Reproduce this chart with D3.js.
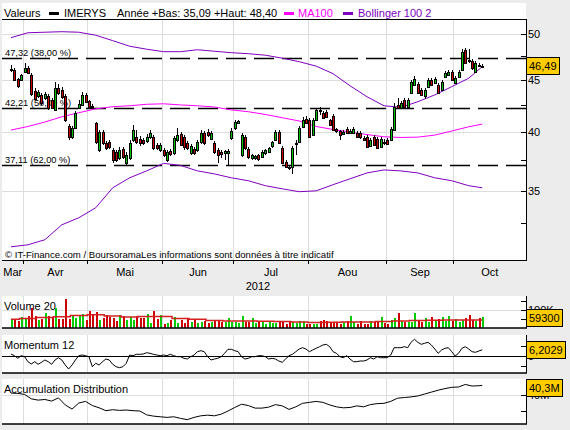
<!DOCTYPE html>
<html>
<head>
<meta charset="utf-8">
<script src="https://cdn.jsdelivr.net/npm/d3@7/dist/d3.min.js"></script>
<style>
  body { margin: 0; background: #ececec; }
  svg { display: block; font-family: "Liberation Sans", Arial, sans-serif; }
</style>
</head>
<body>
<div id="chart"></div>
<script>
// ---- data ----
const months = ["Mar", "Avr", "Mai", "Jun", "Jul", "Aou", "Sep", "Oct"];
const monthDays = [4, 19, 22, 21, 22, 23, 20, 9];   // trading days shown per month
const year = "2012";

const opens = [
  46.18, 46.07, 45.14, 45.03, 45.86, 46.28, 45.55, 43.92, 43.43, 43.51,
  43.23, 43.43, 43.02, 42.05, 44.23, 44.01, 43.43, 40.55, 39.56, 40.38,
  42.26, 42.53, 43.51, 42.93, 42.45, 40.82, 38.38, 39.99, 39.00, 39.09,
  38.38, 38.21, 37.71, 38.48, 37.28, 37.71, 39.26, 39.56, 39.35, 39.26,
  39.18, 39.56, 39.56, 38.82, 38.38, 38.38, 37.54, 38.30, 38.12, 39.26,
  39.80, 39.56, 39.00, 38.12, 38.48, 38.38, 39.09, 39.90, 39.99, 39.35,
  39.00, 38.38, 38.21, 38.12, 38.12, 39.47, 40.38, 40.82, 37.96, 39.56,
  38.48, 37.71, 37.71, 37.96, 37.79, 38.12, 38.21, 38.75, 39.26, 39.99,
  38.59, 37.37, 36.94, 36.94, 38.91, 39.09, 40.47, 41.20, 41.10, 39.71,
  41.10, 42.05, 41.78, 41.88, 41.10, 41.49, 40.27, 40.08, 39.80, 40.27,
  39.90, 39.90, 39.90, 39.90, 39.47, 39.56, 38.75, 39.56, 39.35, 38.67,
  39.09, 39.26, 39.26, 40.17, 42.53, 42.26, 43.02, 42.36, 43.73, 44.52,
  44.63, 44.01, 43.43, 44.33, 45.03, 44.73, 44.52, 44.01, 45.34, 45.55,
  45.86, 44.73, 45.34, 46.07, 48.21, 47.13, 47.02, 45.86, 46.60, 46.45
];
const highs = [
  46.60, 46.28, 45.24, 45.66, 46.81, 46.50, 45.76, 44.23, 44.01, 43.73,
  43.82, 43.63, 43.23, 44.83, 44.63, 44.33, 43.63, 40.72, 40.55, 41.96,
  43.02, 43.82, 43.73, 43.02, 42.64, 40.91, 40.17, 40.17, 39.18, 39.26,
  38.59, 38.38, 38.67, 38.67, 38.21, 39.26, 40.63, 40.17, 39.63, 39.47,
  39.80, 40.17, 39.71, 39.00, 39.00, 38.59, 38.38, 38.48, 39.63, 40.38,
  39.99, 39.71, 39.18, 38.91, 38.67, 39.26, 40.17, 40.08, 40.27, 40.08,
  39.18, 38.59, 38.38, 38.38, 38.48, 40.38, 41.10, 41.10, 39.90, 39.71,
  38.67, 38.03, 37.96, 38.03, 38.38, 38.48, 38.67, 39.18, 40.17, 40.17,
  38.75, 37.54, 37.11, 38.75, 39.26, 40.55, 41.40, 41.49, 41.31, 41.31,
  42.26, 42.36, 41.96, 42.05, 41.20, 41.68, 40.38, 40.17, 40.17, 40.47,
  40.27, 40.47, 40.08, 40.08, 39.63, 39.71, 39.47, 39.71, 39.56, 39.56,
  39.35, 39.47, 40.47, 42.74, 43.23, 42.93, 43.23, 43.23, 45.03, 45.45,
  44.83, 44.23, 44.23, 45.24, 45.24, 45.34, 44.73, 45.03, 45.97, 46.07,
  46.07, 45.45, 46.07, 48.33, 48.40, 48.33, 47.24, 47.02, 46.81, 46.71
];
const lows = [
  45.86, 44.93, 44.23, 44.93, 45.76, 45.66, 43.43, 43.02, 43.23, 42.53,
  43.02, 42.05, 42.15, 41.96, 43.51, 43.12, 40.91, 39.26, 39.35, 40.27,
  42.15, 42.45, 42.74, 42.15, 42.15, 38.91, 38.21, 38.82, 38.38, 38.48,
  37.28, 37.37, 37.54, 37.62, 37.11, 37.54, 39.09, 38.91, 38.75, 38.82,
  39.00, 39.35, 38.38, 38.38, 38.21, 37.79, 37.37, 37.88, 37.96, 39.09,
  38.75, 38.38, 38.38, 37.96, 37.96, 38.21, 38.91, 38.82, 39.56, 39.26,
  38.03, 37.28, 37.71, 37.54, 37.11, 39.26, 40.17, 40.72, 37.79, 38.38,
  37.62, 37.54, 37.54, 37.45, 37.71, 37.96, 38.12, 38.59, 39.18, 38.91,
  37.20, 36.86, 36.69, 36.36, 37.96, 39.00, 40.38, 40.72, 39.47, 39.63,
  41.01, 41.57, 41.20, 41.31, 40.55, 40.08, 39.90, 39.26, 39.71, 39.80,
  39.80, 39.80, 39.47, 39.35, 39.18, 38.59, 38.67, 38.75, 38.48, 38.59,
  38.82, 38.82, 39.18, 40.08, 42.15, 42.15, 42.26, 42.26, 43.63, 44.42,
  43.63, 43.43, 43.12, 44.23, 44.42, 44.63, 43.63, 43.92, 45.24, 45.45,
  44.93, 44.63, 45.24, 45.97, 46.71, 46.81, 46.07, 45.76, 46.39, 46.39
];
const closes = [
  46.18, 45.03, 44.42, 45.55, 46.28, 45.76, 43.63, 43.12, 43.82, 42.74,
  43.63, 42.26, 42.26, 44.23, 43.73, 43.33, 41.10, 39.56, 40.38, 41.78,
  42.64, 43.51, 42.84, 42.36, 42.36, 39.09, 39.99, 39.00, 38.59, 38.67,
  37.54, 37.54, 38.38, 37.79, 37.96, 39.00, 40.17, 39.09, 39.00, 39.00,
  39.56, 39.90, 38.59, 38.59, 38.82, 37.96, 38.21, 38.03, 39.47, 39.71,
  38.82, 38.67, 38.59, 38.75, 38.12, 39.09, 39.90, 39.00, 39.71, 39.90,
  38.21, 37.96, 38.03, 38.30, 38.30, 40.08, 40.91, 41.01, 39.71, 38.59,
  37.79, 37.96, 37.88, 37.62, 38.21, 38.38, 38.59, 39.09, 39.99, 39.00,
  37.28, 36.94, 36.86, 38.59, 39.00, 40.38, 41.10, 40.82, 39.56, 41.10,
  42.05, 41.96, 41.31, 41.40, 40.63, 40.17, 40.08, 39.71, 39.99, 39.90,
  40.08, 40.27, 39.56, 39.56, 39.26, 38.67, 39.26, 38.82, 38.59, 39.35,
  39.00, 38.91, 40.27, 42.36, 42.26, 42.74, 42.36, 43.02, 44.83, 45.14,
  43.73, 43.51, 44.01, 45.03, 44.52, 45.14, 43.73, 44.83, 45.76, 45.86,
  45.03, 45.24, 45.86, 48.00, 46.81, 47.02, 46.28, 46.81, 46.55, 46.49
];
const volumes = [
  44000, 44000, 37000, 61000, 48000, 67000, 111000, 67000, 44000, 50000,
  83000, 67000, 59000, 111000, 50000, 50000, 161000, 50000, 70000, 56000,
  72000, 78000, 44000, 94000, 70000, 89000, 44000, 56000, 72000, 61000,
  56000, 37000, 72000, 67000, 44000, 61000, 44000, 67000, 56000, 56000,
  78000, 28000, 94000, 50000, 72000, 22000, 28000, 44000, 61000, 28000,
  44000, 28000, 48000, 33000, 44000, 28000, 33000, 41000, 28000, 33000,
  44000, 44000, 33000, 33000, 56000, 33000, 33000, 28000, 67000, 33000,
  33000, 56000, 28000, 33000, 33000, 22000, 33000, 28000, 28000, 33000,
  33000, 22000, 41000, 33000, 28000, 37000, 37000, 22000, 22000, 22000,
  22000, 37000, 46000, 37000, 33000, 33000, 33000, 22000, 33000, 41000,
  65000, 33000, 22000, 41000, 22000, 22000, 41000, 33000, 41000, 63000,
  28000, 22000, 46000, 56000, 82000, 41000, 33000, 33000, 33000, 83000,
  41000, 33000, 56000, 33000, 59000, 37000, 48000, 59000, 41000, 68000,
  37000, 52000, 33000, 46000, 56000, 74000, 46000, 41000, 56000, 59300
];

// overlays read every 5 sessions (plus the last one)
const sampleIdx = d3.range(0, 140, 5).concat([139]);
const ma100 = [40.17, 40.50, 40.91, 41.40, 41.78, 42.15, 42.36, 42.45, 42.59, 42.64,
  42.53, 42.45, 42.33, 42.05, 41.88, 41.62, 41.31, 41.01, 40.50, 40.22,
  39.99, 39.76, 39.56, 39.50, 39.53, 39.71, 40.08, 40.47, 40.72];
const bollUp = [49.55, 50.11, 50.17, 50.23, 50.17, 49.83, 49.22, 48.60, 48.27, 48.00,
  48.00, 48.21, 48.05, 47.89, 47.78, 47.62, 47.30, 46.92, 46.45, 45.66,
  44.42, 43.33, 42.45, 42.30, 42.84, 43.51, 44.33, 45.19, 46.39];
const bollLow = [30.81, 30.95, 31.31, 32.39, 32.91, 33.67, 35.23, 36.04, 36.61, 37.24,
  37.07, 36.61, 36.36, 36.04, 35.80, 35.40, 35.15, 34.92, 34.99, 35.48,
  35.96, 36.44, 36.69, 36.61, 36.44, 36.04, 35.80, 35.40, 35.23];
const volMa = [48000, 53000, 59000, 63000, 70000, 73000, 67000, 61000, 64000, 64000,
  53000, 48000, 42000, 39000, 39000, 38000, 36000, 33000, 31000, 32000,
  33000, 34000, 36000, 39000, 42000, 43000, 44000, 45000, 45000];

const momentum = [
  2, 0.3, -2.3, 0.3, -0.7, -5.7, -8, -5.7, -8.3, -6.3,
  -4, -5.7, -8.3, -4, -1.7, -4, -9, -13, -9, -4,
  0.3, 1, 0.3, -0.7, -10.7, -7.3, -9, -5.7, -3, -4,
  -8.3, -10.7, -11.7, -10.7, -7.3, 1, 0.3, 1.7, 1.7, 2,
  3.3, 2.7, 1.7, 1, 0.3, 1, 0.3, 1.7, 0.3, -0.7,
  -0.7, -2.3, -3, -0.7, 1, 4.3, 5.3, 4.3, -0.7, -4,
  -3, -2.3, -0.7, 2.7, 6.7, 6.7, 5.3, 4.3, -0.7, -3,
  -2.3, -0.7, -0.7, 0.3, 0.3, -0.7, -3, -2.3, -3, -5,
  -6.3, -3, 0.3, 1.7, 4.3, 7, 8.3, 7, 4.3, 6,
  7.7, 9.3, 11, 11.7, 9.3, 4.3, 2.7, -0.7, -1.7, 0.3,
  -3, -5.7, -5.7, -5, -5, -4, -1.7, -3, -0.7, -1.7,
  -1.7, -1.7, 1, 8.3, 8.3, 8.3, 9.3, 8.3, 13.7, 16.7,
  13.7, 11.7, 12.7, 13.7, 11, 7, 2.7, 6, 7.7, 8.3,
  4.3, 0, 2.7, 7.7, 9.3, 7, 4.3, 3.7, 5, 6.2029
];

// accumulation distribution (millions), read every 2 sessions
const adIdx = d3.range(0, 140, 2).concat([139]);
const accDist = [
  40.06, 40.05, 40.02, 39.88, 39.84, 39.86, 39.81, 39.91, 39.69, 39.56,
  39.75, 39.80, 39.67, 39.60, 39.51, 39.54, 39.52, 39.53, 39.51, 39.50,
  39.38, 39.34, 39.32, 39.30, 39.32, 39.27, 39.23, 39.30, 39.35, 39.37,
  39.35, 39.40, 39.50, 39.61, 39.71, 39.67, 39.59, 39.59, 39.62, 39.70,
  39.66, 39.55, 39.63, 39.74, 39.77, 39.80, 39.77, 39.69, 39.63, 39.60,
  39.61, 39.66, 39.63, 39.70, 39.73, 39.74, 39.80, 39.90, 39.92, 39.94,
  39.97, 40.03, 40.09, 40.15, 40.20, 40.24, 40.25, 40.33, 40.28, 40.29,
  40.30
];

const fibLevels = [47.32, 42.21, 37.11];
const fibPct = ["38,00", "50,00", "62,00"];
const yearLow = "35,09", yearHigh = "48,40";
const priceTicks = d3.range(32.5, 50.01, 2.5);
const priceLabels = [35, 40, 45, 50];
const volTicks = [50000, 100000, 150000];
const momTicks = [-10, 0, 10];
const adTicks = [39.5, 40];

// ---- layout ----
const W = 570, H = 430;
const left = 2, right = 526;
const grid = "#dddddd", green = "#00c000", red = "#cc0000";
const maColor = "#ff00ff", bollColor = "#8000c0";
const fmt = (v, d) => v.toFixed(d).replace(".", ",");

const svg = d3.select("#chart").append("svg")
  .attr("width", W)
  .attr("height", H)
  .style("font-size", "11px");

svg.append("rect").attr("width", W).attr("height", H).attr("fill", "#ececec");

const x = d3.scaleLinear().domain([-2.65, 151.9]).range([left, right]);

let starts = [], acc = 0;
monthDays.forEach(d => { starts.push(acc); acc += d; });
const bounds = starts.slice(1).map(s => Math.round(x(s - 0.5)) + 0.5);

function vgrid(g, top, bottom) {
  g.selectAll(null).data(bounds).enter().append("line")
    .attr("x1", d => d).attr("x2", d => d)
    .attr("y1", top).attr("y2", bottom)
    .attr("stroke", grid);
}

function valueBox(yc, text, top, bottom) {
  const h = 17;
  let y0 = Math.round(yc - h / 2);
  y0 = Math.max(top, Math.min(bottom - h, y0));
  const g = svg.append("g");
  const t = g.append("text").attr("x", 529).attr("y", y0 + 12.5).text(text);
  const w = Math.round(t.node().getComputedTextLength()) + 5;
  g.insert("rect", "text")
    .attr("x", 526.5).attr("y", y0 + 0.5)
    .attr("width", w).attr("height", h)
    .attr("fill", "#ffcc00").attr("stroke", "#000");
}

// ---- main price panel ----
const mainTop = 19, mainBottom = 260;
const y = d3.scaleLog().domain([29.9, 51.7]).range([mainBottom, mainTop]);

svg.append("rect").attr("x", left).attr("y", 3)
  .attr("width", right - left).attr("height", mainBottom - 3).attr("fill", "#fff");

const gMain = svg.append("g");
vgrid(gMain, mainTop, mainBottom);
gMain.selectAll(null).data(priceLabels).enter().append("line")
  .attr("x1", left).attr("x2", right)
  .attr("y1", d => Math.round(y(d)) + 0.5).attr("y2", d => Math.round(y(d)) + 0.5)
  .attr("stroke", grid);

// header legend
const head = svg.append("g");
head.append("text").attr("x", 4).attr("y", 17).text("Valeurs");
head.append("rect").attr("x", 49).attr("y", 12).attr("width", 10).attr("height", 3).attr("fill", "#000");
head.append("text").attr("x", 64).attr("y", 17).text("IMERYS");
head.append("text").attr("x", 117).attr("y", 17).text("Année +Bas: " + yearLow + " +Haut: " + yearHigh);
head.append("rect").attr("x", 284).attr("y", 12).attr("width", 10).attr("height", 3).attr("fill", maColor);
head.append("text").attr("x", 298).attr("y", 17).attr("fill", maColor).text("MA100");
head.append("rect").attr("x", 343).attr("y", 12).attr("width", 10).attr("height", 3).attr("fill", bollColor);
head.append("text").attr("x", 358).attr("y", 17).attr("fill", bollColor).text("Bollinger 100 2");
svg.append("line").attr("x1", left).attr("x2", right).attr("y1", 19.5).attr("y2", 19.5).attr("stroke", "#000");

// retracement lines
fibLevels.forEach((lv, k) => {
  const yy = Math.round(y(lv)) + 0.5;
  gMain.append("line")
    .attr("x1", left).attr("x2", right).attr("y1", yy).attr("y2", yy)
    .attr("stroke", "#000").attr("stroke-width", 1.5)
    .attr("stroke-dasharray", "20,8");
  gMain.append("text").attr("x", 5).attr("y", yy - 3)
    .style("font-size", "9.3px")
    .text(fmt(lv, 2) + " (" + fibPct[k] + " %)");
});

gMain.append("text").attr("x", 5).attr("y", 257.5)
  .style("font-size", "9.6px")
  .text("© IT-Finance.com / BoursoramaLes informations sont données à titre indicatif");

// moving average and bands
const bandLine = arr => d3.line()
  .x((d, k) => x(sampleIdx[k]))
  .y(d => y(d))(arr);
gMain.append("path").attr("d", bandLine(bollUp)).attr("fill", "none").attr("stroke", bollColor);
gMain.append("path").attr("d", bandLine(bollLow)).attr("fill", "none").attr("stroke", bollColor);
gMain.append("path").attr("d", bandLine(ma100)).attr("fill", "none").attr("stroke", maColor);

// candles
const candles = gMain.append("g").attr("shape-rendering", "crispEdges");
closes.forEach((c, i) => {
  const cx = Math.round(x(i));
  const yo = Math.round(y(opens[i])), yc = Math.round(y(c));
  const top = Math.min(yo, yc), h = Math.max(Math.abs(yo - yc), 1);
  candles.append("line")
    .attr("x1", cx + 0.5).attr("x2", cx + 0.5)
    .attr("y1", Math.round(y(highs[i]))).attr("y2", Math.round(y(lows[i])))
    .attr("stroke", "#000");
  candles.append("rect")
    .attr("x", cx - 0.5).attr("y", top + 0.5)
    .attr("width", 2).attr("height", h)
    .attr("fill", c >= opens[i] ? green : red)
    .attr("stroke", "#000");
});

// axes of the main panel
svg.append("line").attr("x1", right + 0.5).attr("x2", right + 0.5)
  .attr("y1", mainTop).attr("y2", mainBottom + 1).attr("stroke", "#000");
svg.append("line").attr("x1", left).attr("x2", right + 1)
  .attr("y1", mainBottom + 0.5).attr("y2", mainBottom + 0.5).attr("stroke", "#000");
svg.selectAll(null).data(priceTicks).enter().append("line")
  .attr("x1", right - 5).attr("x2", right)
  .attr("y1", d => Math.round(y(d)) + 0.5).attr("y2", d => Math.round(y(d)) + 0.5)
  .attr("stroke", "#000");
svg.selectAll(null).data(priceLabels).enter().append("text")
  .attr("x", 528).attr("y", d => y(d) + 4).text(d => d);
svg.selectAll(null).data(bounds).enter().append("line")
  .attr("x1", d => d).attr("x2", d => d)
  .attr("y1", mainBottom).attr("y2", mainBottom + 4).attr("stroke", "#000");

// month labels, centred in each month's span of the axis
months.forEach((m, k) => {
  const a = k === 0 ? left : bounds[k - 1];
  const b = k === months.length - 1 ? right : bounds[k];
  svg.append("text").attr("x", (a + b) / 2).attr("y", 275.5)
    .attr("text-anchor", "middle").text(m);
});
svg.append("text").attr("x", 258).attr("y", 289.5).attr("text-anchor", "middle").text(year);

valueBox(y(closes[closes.length - 1]), fmt(closes[closes.length - 1], 2), mainTop, mainBottom);

// ---- lower panels ----
function panel(top, bottom, label) {
  const g = svg.append("g");
  g.append("rect").attr("x", left).attr("y", top)
    .attr("width", right - left).attr("height", bottom - top).attr("fill", "#fff");
  vgrid(g, top, bottom);
  g.append("text").attr("x", 4).attr("y", top + 14).text(label);
  return g;
}
function panelFrame(top, bottom, ticks, sc) {
  svg.append("line").attr("x1", right + 0.5).attr("x2", right + 0.5)
    .attr("y1", top).attr("y2", bottom).attr("stroke", "#000");
  svg.append("line").attr("x1", left).attr("x2", right + 1)
    .attr("y1", bottom).attr("y2", bottom).attr("stroke", "#000").attr("stroke-width", 1.5);
  svg.selectAll(null).data(ticks).enter().append("line")
    .attr("x1", right - 5).attr("x2", right)
    .attr("y1", d => Math.round(sc(d)) + 0.5).attr("y2", d => Math.round(sc(d)) + 0.5)
    .attr("stroke", "#000");
}

// volume
const volTop = 296, volBottom = 328;
const yv = d3.scaleLinear().domain([0, 100000]).range([volBottom, 310]);
const gVol = panel(volTop, volBottom, "Volume 20");
gVol.append("line").attr("x1", left).attr("x2", right)
  .attr("y1", Math.round(yv(100000)) + 0.5).attr("y2", Math.round(yv(100000)) + 0.5)
  .attr("stroke", grid);
gVol.append("g").attr("shape-rendering", "crispEdges")
  .selectAll("rect").data(volumes).enter().append("rect")
  .attr("x", (d, i) => Math.round(x(i)))
  .attr("y", d => Math.round(yv(d)))
  .attr("width", 2)
  .attr("height", d => volBottom - Math.round(yv(d)))
  .attr("fill", (d, i) => closes[i] >= opens[i] ? "#00cc00" : red);
gVol.append("path")
  .attr("d", d3.line().curve(d3.curveStep)
    .x((d, k) => x(sampleIdx[k])).y(d => yv(d))(volMa))
  .attr("fill", "none").attr("stroke", "#d42020").attr("stroke-width", 1.5);
panelFrame(volTop, volBottom, volTicks, yv);
svg.append("text").attr("x", 528).attr("y", yv(100000) + 4).text("100K");
valueBox(yv(volumes[volumes.length - 1]), String(volumes[volumes.length - 1]), volTop, volBottom);

// momentum
const momTop = 335, momBottom = 373;
const ym = d3.scaleLinear().domain([-17, 21]).range([momBottom, momTop]);
const gMom = panel(momTop, momBottom, "Momentum 12");
gMom.append("line").attr("x1", left).attr("x2", right)
  .attr("y1", Math.round(ym(0)) + 0.5).attr("y2", Math.round(ym(0)) + 0.5)
  .attr("stroke", "#000");
gMom.append("path")
  .attr("d", d3.line().x((d, i) => x(i)).y(d => ym(d))(momentum))
  .attr("fill", "none").attr("stroke", "#000");
panelFrame(momTop, momBottom, momTicks, ym);
svg.append("text").attr("x", 528).attr("y", ym(0) + 4).text("0");
valueBox(ym(momentum[momentum.length - 1]), fmt(momentum[momentum.length - 1], 4), momTop, momBottom);

// accumulation distribution
const adTop = 379, adBottom = 424;
const ya = d3.scaleLinear().domain([39.5, 40]).range([411, 395]);
const gAd = panel(adTop, adBottom, "Accumulation Distribution");
gAd.append("line").attr("x1", left).attr("x2", right)
  .attr("y1", Math.round(ya(40)) + 0.5).attr("y2", Math.round(ya(40)) + 0.5)
  .attr("stroke", grid);
gAd.append("path")
  .attr("d", d3.line().x((d, k) => x(adIdx[k])).y(d => ya(d))(accDist))
  .attr("fill", "none").attr("stroke", "#000");
panelFrame(adTop, adBottom, adTicks, ya);
svg.append("text").attr("x", 528).attr("y", ya(40) + 4).text("40M");
valueBox(ya(accDist[accDist.length - 1]), fmt(accDist[accDist.length - 1], 1) + "M", adTop, adBottom);
</script>
</body>
</html>
